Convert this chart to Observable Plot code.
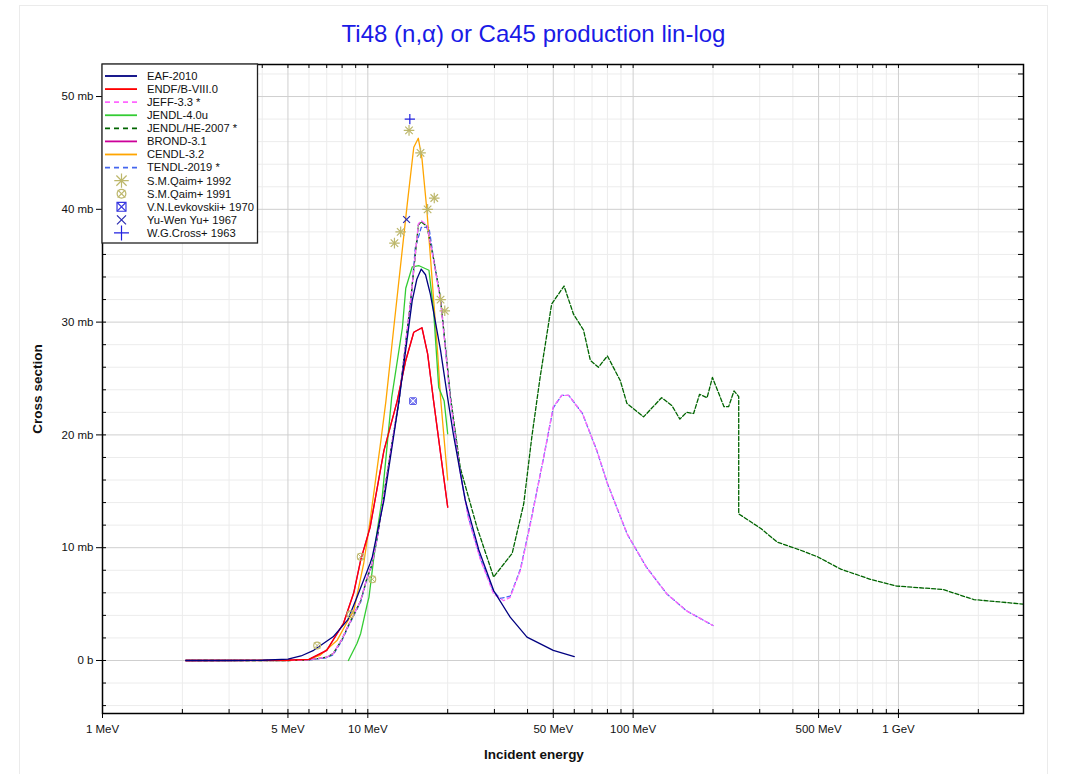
<!DOCTYPE html>
<html>
<head>
<meta charset="utf-8">
<script src="https://cdn.jsdelivr.net/npm/d3@7"></script>
<script src="https://cdn.jsdelivr.net/npm/@observablehq/plot@0.6"></script>
<style>
  body { margin: 0; background: #fff; font-family: "Liberation Sans", Arial, sans-serif; }
  #wrap { position: relative; width: 1067px; height: 774px; overflow: hidden; }
  #border { position: absolute; left: 19px; top: 5px; width: 1027px; height: 800px; border: 1px solid #ebebeb; }
  #title { position: absolute; left: 0; top: 20px; width: 1067px; text-align: center; font-size: 24px; line-height: 28px; color: #1a1ae6; }
  #chart { position: absolute; left: 0; top: 0; }
</style>
</head>
<body>
<div id="wrap">
  <div id="border"></div>
  <div id="chart"></div>
  <div id="title">Ti48 (n,α) or Ca45 production lin-log</div>
</div>
<script>
// ---------- tick values and labels ----------
const xMajor = [1, 5, 10, 50, 100, 500, 1000];
const xLabels = ["1 MeV", "5 MeV", "10 MeV", "50 MeV", "100 MeV", "500 MeV", "1 GeV"];
const xMinor = [2, 3, 4, 6, 7, 8, 9, 20, 30, 40, 60, 70, 80, 90, 200, 300, 400, 600, 700, 800, 900, 2000];
const yMajor = [0, 10, 20, 30, 40, 50];
const yLabels = ["0 b", "10 mb", "20 mb", "30 mb", "40 mb", "50 mb"];
const yMinor = [-4, -2, 2, 4, 6, 8, 12, 14, 16, 18, 22, 24, 26, 28, 32, 34, 36, 38, 42, 44, 46, 48, 52];

// ---------- evaluated data: [energy MeV, cross section mb] ----------
const eaf2010 = [[2.06,0],[3,0.0],[4,0.02],[5,0.12],[5.6,0.4],[6.25,0.9],[7.4,2.1],[8.4,3.6],[9.1,5.6],[10.2,8.6],[10.4,9.2],[11.5,14.2],[13.1,23.0],[14.7,31.9],[15.3,33.8],[15.9,34.7],[16.5,34.2],[17.2,32.5],[18.8,27.5],[19.9,23.6],[21,20.1],[23.3,14.2],[26.2,9.8],[29.8,6.2],[34.4,3.84],[39.8,2.07],[50,0.89],[60,0.35]];
const endf8 = [[2.06,0],[5,0.02],[6,0.1],[7,0.9],[8.1,3.3],[8.85,6.0],[9.4,8.9],[10.2,11.8],[11.5,18.6],[12.9,23.0],[13.9,26.6],[14.9,29.1],[16.0,29.5],[16.8,27.2],[17.7,23.0],[20,13.6]];
const jeff33 = [[2.06,0],[5,0.0],[6,0.05],[7,0.3],[7.4,0.6],[8,1.9],[8.4,3.0],[9.4,5.3],[9.95,7.4],[10.4,8.6],[10.9,11.2],[12.2,18.6],[13.1,23.0],[14.5,31.9],[15.5,38.7],[15.9,39.0],[16.7,38.6],[17.7,35.5],[18.8,31.9],[20.5,23.0],[22.3,16.6],[24,12.5],[26.6,8.9],[29.8,5.9],[32.5,5.3],[34.4,5.6],[37.6,8.0],[41,12.1],[46,18.0],[50,22.5],[53.8,23.5],[57.2,23.5],[64.4,21.9],[73,18.6],[80,15.7],[95,11.2],[112,8.3],[134,5.9],[159,4.4],[200,3.1]];
const jendl40u = [[8.45,0],[9.1,1.5],[9.4,2.4],[9.95,5.0],[10.1,5.6],[10.8,11.2],[11.3,14.2],[12.3,23.3],[13.5,29.5],[13.9,33.0],[14.7,34.9],[15.6,35.0],[17.0,34.6],[17.7,31.0],[18.5,24.2],[19.4,23.0],[20,20.1]];
const jendlhe2007 = [[2.06,0],[5,0.0],[6,0.05],[7,0.3],[7.4,0.6],[8,1.9],[8.4,3.0],[9.4,5.3],[9.95,7.4],[10.4,8.6],[10.9,11.2],[12.2,18.6],[13.1,23.0],[14.5,31.9],[15.5,38.6],[15.9,38.9],[16.7,38.5],[17.7,35.6],[18.8,32.1],[20.5,23.3],[22.3,17.1],[25.8,11.8],[29.8,7.4],[35,9.5],[38.7,13.9],[41.5,19.8],[44.6,25.1],[49.3,31.6],[54.9,33.2],[59.6,30.7],[65,29.3],[69,26.6],[74,26.0],[80,27.0],[89.5,24.8],[94.7,22.8],[109.5,21.6],[128,23.3],[140,22.6],[150,21.4],[159,22.0],[169,21.9],[178,23.6],[190,23.3],[199,25.1],[220,22.5],[229,22.5],[240,23.9],[250,23.4],[250,13.0],[303,11.7],[349,10.5],[425,9.8],[495,9.2],[606,8.1],[783,7.2],[985,6.6],[1469,6.3],[1925,5.4],[2950,5.0]];
const brond31 = [[2.06,0],[5,0.02],[6,0.1],[7,0.9],[8.1,3.3],[8.85,6.0],[9.4,8.9],[10.2,11.8],[11.5,18.6],[12.9,23.0],[13.9,26.6],[14.9,29.1],[16.0,29.5],[16.8,27.2],[17.7,23.0],[20,13.6]];
const cendl32 = [[2.06,0],[5,0.0],[6.0,0.1],[6.6,0.45],[7.67,1.8],[8.4,3.5],[8.85,4.4],[9.65,8.6],[10.2,12.4],[11.2,19.5],[11.7,23.0],[12.5,29.3],[14.1,40.6],[14.9,45.5],[15.5,46.3],[16.0,44.5],[16.7,39.9],[18.3,27.5],[18.8,23.3],[20,16.0]];
const tendl2019 = [[2.06,0],[5,0.0],[6,0.05],[7,0.25],[7.4,0.5],[8,1.8],[8.4,2.9],[9.4,5.2],[9.95,7.3],[10.4,8.5],[10.9,11.1],[12.2,18.5],[13.1,23.0],[14.5,31.6],[15.1,36.6],[15.9,38.4],[17.0,38.4],[17.7,35.6],[18.8,32.0],[20.5,23.2],[22.3,16.7],[24,12.6],[26.6,9.0],[29.8,6.1],[31.6,5.5],[34.4,5.7],[37.6,8.1],[41,12.2],[46,18.0],[50,22.4],[53.8,23.5],[57.2,23.5],[64.4,21.9],[73,18.6],[80,15.7],[95,11.2],[112,8.3],[134,5.9],[159,4.4],[200,3.1]];

// ---------- experimental data ----------
const qaim1992 = [[14.3,47.0],[15.8,45.0],[17.8,41.0],[16.8,40.0],[13.3,38.0],[12.6,37.0],[18.8,32.0],[19.5,31.0]];
const qaim1991 = [[6.44,1.33],[8.6,4.1],[9.4,9.2],[10.4,7.2]];
const levkovskii1970 = [[14.8,23.0]];
const yuwenyu1967 = [[14.0,39.1]];
const cross1963 = [[14.4,48.0]];

const seriesNames = ["EAF-2010","ENDF/B-VIII.0","JEFF-3.3 *","JENDL-4.0u","JENDL/HE-2007 *","BROND-3.1","CENDL-3.2","TENDL-2019 *"];
const seriesData = [eaf2010, endf8, jeff33, jendl40u, jendlhe2007, brond31, cendl32, tendl2019];
const seriesColors = ["#000080","#ff0000","#ff66ff","#33cc33","#006400","#cc0099","#ffa500","#4466ee"];
const seriesDash = [null, null, "4,3", null, "4,2", null, null, "4,3"];
const seriesOffset = [0, 0, 0, 0, 0, 0, 0, 3.5];

const expNames = ["S.M.Qaim+ 1992","S.M.Qaim+ 1991","V.N.Levkovskii+ 1970","Yu-Wen Yu+ 1967","W.G.Cross+ 1963"];

const W = 1067, H = 774;
const mL = 102, mR = 44, mT = 64, mB = 61;
const fw = W - mL - mR, fh = H - mT - mB;
const khaki = "#bdb76b";
const font = '"Liberation Sans", Arial, sans-serif';

const lineMarks = [];
for (let i = seriesData.length - 1; i >= 0; i--) {
  lineMarks.push(Plot.line(seriesData[i], {
    x: d => d[0], y: d => d[1],
    stroke: seriesColors[i], strokeWidth: 1.3,
    strokeDasharray: seriesDash[i] || undefined,
    strokeDashoffset: seriesOffset[i]
  }));
}

const chart = Plot.plot({
  width: W, height: H,
  marginLeft: mL, marginRight: mR, marginTop: mT, marginBottom: mB,
  x: { type: "log", domain: [1, 2960], axis: null },
  y: { domain: [-4.7, 52.84], axis: null },
  style: { fontFamily: font, fontSize: "12px", background: "transparent", overflow: "visible" },
  marks: [
    // grid
    Plot.ruleX(xMinor, { stroke: "#ececec" }),
    Plot.ruleY(yMinor, { stroke: "#ececec" }),
    Plot.ruleX(xMajor, { stroke: "#cfcfcf" }),
    Plot.ruleY(yMajor, { stroke: "#cfcfcf" }),
    // curves
    ...lineMarks,
    // experimental
    Plot.dot(qaim1992, { x: d => d[0], y: d => d[1], symbol: "plus", r: 3.5, stroke: khaki, strokeWidth: 1.2 }),
    Plot.dot(qaim1992, { x: d => d[0], y: d => d[1], symbol: "times", r: 3.5, stroke: khaki, strokeWidth: 1.2 }),
    Plot.dot(qaim1991, { x: d => d[0], y: d => d[1], symbol: "circle", r: 3.4, stroke: khaki, fill: "none", strokeWidth: 1.1 }),
    Plot.dot(qaim1991, { x: d => d[0], y: d => d[1], symbol: "times", r: 2.8, stroke: khaki, strokeWidth: 1.0 }),
    Plot.dot(levkovskii1970, { x: d => d[0], y: d => d[1], symbol: "square", r: 3.6, stroke: "#3535e0", fill: "#9a9cf5", strokeWidth: 1.0 }),
    Plot.dot(levkovskii1970, { x: d => d[0], y: d => d[1], symbol: "times", r: 3.0, stroke: "#ffffff", strokeWidth: 1.0 }),
    Plot.dot(yuwenyu1967, { x: d => d[0], y: d => d[1], symbol: "times", r: 3.2, stroke: "#2b2bb0", strokeWidth: 1.2 }),
    Plot.dot(cross1963, { x: d => d[0], y: d => d[1], symbol: "plus", r: 3.4, stroke: "#2020e0", strokeWidth: 1.2 }),
    // ticks
    Plot.ruleX(xMinor, { insetTop: fh - 4, stroke: "#000" }),
    Plot.ruleX(xMajor, { insetTop: fh - 4, insetBottom: -5, stroke: "#000" }),
    Plot.ruleX([...xMinor, ...xMajor], { insetBottom: fh - 4, stroke: "#000" }),
    Plot.ruleY(yMinor, { insetRight: fw - 4, stroke: "#000" }),
    Plot.ruleY(yMajor, { insetRight: fw - 4, insetLeft: -6, stroke: "#000" }),
    Plot.ruleY([...yMinor, ...yMajor], { insetLeft: fw - 5, stroke: "#000" }),
    Plot.frame({ stroke: "#000", strokeWidth: 1.5 }),
    // tick labels
    Plot.text(xMajor, { x: d => d, text: (d, i) => xLabels[i], frameAnchor: "bottom", dy: 19, fontSize: 11.5, fill: "#111" }),
    Plot.text(yMajor, { y: d => d, text: (d, i) => yLabels[i], frameAnchor: "left", textAnchor: "end", dx: -9, fontSize: 11.5, fill: "#111" }),
    // axis titles
    Plot.text(["Incident energy"], { frameAnchor: "bottom", textAnchor: "middle", dx: -29, dy: 45, fontWeight: "bold", fontSize: 13.5, fill: "#111" }),
    Plot.text(["Cross section"], { frameAnchor: "left", textAnchor: "middle", dx: -65, rotate: -90, fontWeight: "bold", fontSize: 13.5, fill: "#111" })
  ]
});
document.getElementById("chart").appendChild(chart);

// ---------- legend ----------
const svg = d3.select(chart);
const lg = svg.append("g").attr("font-family", font).attr("font-size", 11.2).attr("text-anchor", "start");
lg.append("rect").attr("x", mL).attr("y", mT).attr("width", 155.5).attr("height", 179)
  .attr("fill", "white").attr("stroke", "#222").attr("stroke-width", 1.3);
const rowY = i => 76 + i * 13.08;
seriesNames.forEach((name, i) => {
  const y = rowY(i);
  lg.append("line").attr("x1", 105).attr("x2", 137).attr("y1", y).attr("y2", y)
    .attr("stroke", seriesColors[i]).attr("stroke-width", 1.8)
    .attr("stroke-dasharray", seriesDash[i] ? "5,4" : null);
  lg.append("text").attr("x", 147).attr("y", y).attr("dy", "0.35em").attr("fill", "#111").text(name);
});
const sym = (type, size) => d3.symbol().type(type).size(size)();
const expGlyphs = [
  [[d3.symbolPlus, 70, khaki, "none"], [d3.symbolTimes, 70, khaki, "none"]],
  [[d3.symbolCircle, 60, khaki, "none"], [d3.symbolTimes, 40, khaki, "none"]],
  [[d3.symbolSquare, 80, "#3535e0", "none"], [d3.symbolTimes, 50, "#3535e0", "none"]],
  [[d3.symbolTimes, 55, "#2b2bb0", "none"]],
  [[d3.symbolPlus, 75, "#2020e0", "none"]]
];
expNames.forEach((name, j) => {
  const y = rowY(seriesNames.length + j);
  expGlyphs[j].forEach(([t, s, c, f]) => {
    lg.append("path").attr("d", sym(t, s)).attr("transform", `translate(121.5,${y})`)
      .attr("stroke", c).attr("fill", f).attr("stroke-width", 1.2);
  });
  lg.append("text").attr("x", 147).attr("y", y).attr("dy", "0.35em").attr("fill", "#111").text(name);
});
</script>
</body>
</html>
